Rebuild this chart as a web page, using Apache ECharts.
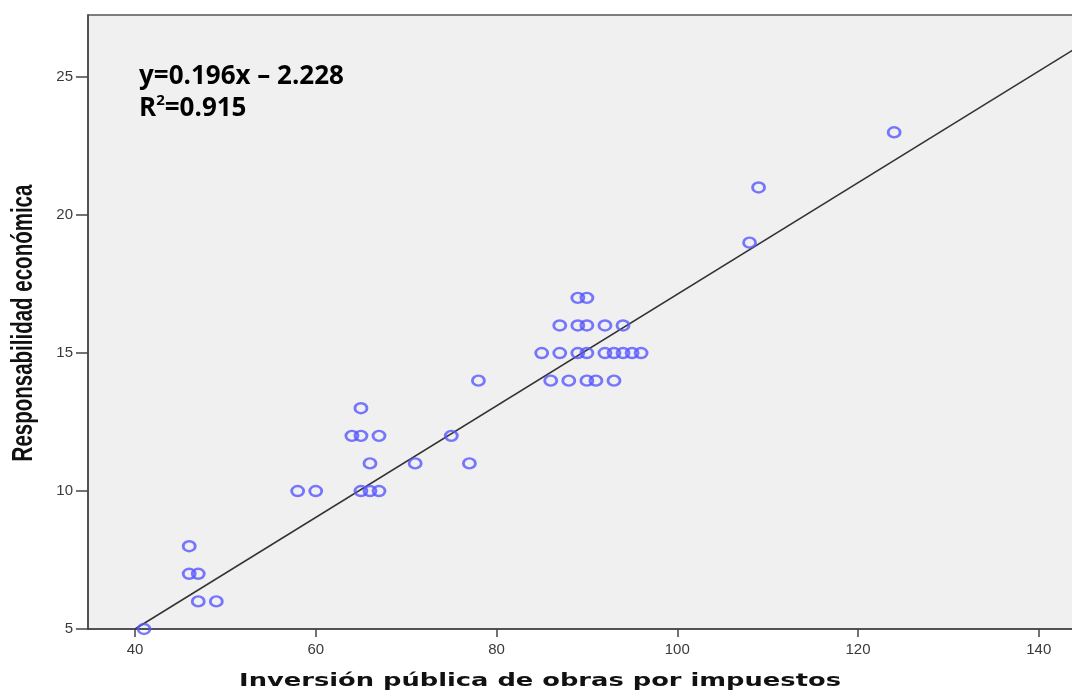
<!DOCTYPE html>
<html>
<head>
<meta charset="utf-8">
<script src="https://cdn.jsdelivr.net/npm/echarts@6/dist/echarts.min.js"></script>
<style>
  html, body { margin: 0; padding: 0; background: #fff; }
  #scatterChart { width: 1072px; height: 693px; }
</style>
</head>
<body>
<div id="scatterChart"></div>
<script>
// puntos observados: [inversión, responsabilidad]
const inversion = [41, 46, 46, 47, 47, 49, 58, 60, 64, 65, 65, 67, 66, 65, 66, 67, 71, 75, 77, 78,
  85, 87, 89, 90, 92, 93, 94, 95, 96, 87, 89, 90, 92, 94, 89, 90, 86, 88, 90, 91, 93, 108, 109, 124];
const responsabilidad = [5, 8, 7, 7, 6, 6, 10, 10, 12, 12, 13, 12, 11, 10, 10, 10, 11, 12, 11, 14,
  15, 15, 15, 15, 15, 15, 15, 15, 15, 16, 16, 16, 16, 16, 17, 17, 14, 14, 14, 14, 14, 19, 21, 23];
// recta de ajuste tal como aparece dibujada
const fitLine = [[40, 5], [143.9, 26.0]];
const xTicks = [40, 60, 80, 100, 120, 140];
const yTicks = [5, 10, 15, 20, 25];

const points = inversion.map((x, i) => [x, responsabilidad[i]]);

let chart = echarts.init(document.getElementById('scatterChart'));
chart.setOption({
  animation: false,
  backgroundColor: '#ffffff',
  grid: {
    left: 88,
    right: -2,
    top: 15,
    bottom: 64,
    outerBoundsMode: 'none',
    containLabel: false,
    show: true,
    backgroundColor: '#f0f0f0',
    borderColor: '#555',
    borderWidth: 1.5
  },
  graphic: [{
    type: 'text',
    left: 139,
    top: 64,
    style: {
      text: '{a|y=0.196x – 2.228}\n{a|R}{s|2}{a|=0.915}',
      rich: {
        a: { fontFamily: 'Open Sans', fontWeight: 'bold', fontSize: 26, fill: '#000', lineHeight: 32 },
        s: { fontFamily: 'Open Sans', fontWeight: 'bold', fontSize: 15, fill: '#000', verticalAlign: 'top', lineHeight: 32, padding: [0, 0, 8, 0] }
      }
    }
  }, {
    // título eje X (estirado en horizontal como en la imagen original)
    type: 'text',
    x: 540,
    y: 681,
    scaleX: 1.43,
    style: {
      text: 'Inversión pública de obras por impuestos',
      align: 'center',
      verticalAlign: 'middle',
      fontFamily: 'DejaVu Sans',
      fontWeight: 'bold',
      fontSize: 18,
      fill: '#111'
    }
  }, {
    // título eje Y
    type: 'text',
    x: 24,
    y: 323,
    rotation: Math.PI / 2,
    scaleY: 1.45,
    style: {
      text: 'Responsabilidad económica',
      align: 'center',
      verticalAlign: 'middle',
      fontFamily: 'Liberation Sans',
      fontWeight: 'bold',
      fontSize: 20.5,
      fill: '#111'
    }
  }],
  xAxis: {
    type: 'value',
    min: 34.8,
    max: 143.9,
    axisLine: { onZero: false, lineStyle: { color: '#444', width: 1.5 } },
    axisTick: { show: true, length: 8, customValues: xTicks, lineStyle: { color: '#444', width: 1.5 } },
    axisLabel: {
      customValues: xTicks,
      fontFamily: 'Liberation Sans',
      fontSize: 15,
      color: '#3a3a3a',
      margin: 13
    },
    splitLine: { show: false }
  },
  yAxis: {
    type: 'value',
    min: 5,
    max: 27.25,
    axisLine: { show: true, onZero: false, lineStyle: { color: '#444', width: 1.5 } },
    axisTick: { show: true, length: 12, customValues: yTicks, lineStyle: { color: '#444', width: 1.5 } },
    axisLabel: {
      customValues: yTicks,
      fontFamily: 'Liberation Sans',
      fontSize: 15,
      color: '#3a3a3a',
      margin: 15
    },
    splitLine: { show: false }
  },
  series: [{
    name: 'ajuste',
    type: 'line',
    data: fitLine,
    symbol: 'none',
    clip: true,
    lineStyle: { color: '#333', width: 1.5 },
    z: 2
  }, {
    name: 'observado',
    type: 'scatter',
    data: points,
    symbol: 'circle',
    symbolSize: [12, 10],
    clip: true,
    itemStyle: {
      color: 'rgba(0,0,0,0)',
      borderColor: '#5858ff',
      borderWidth: 2.6
    },
    z: 3
  }]
});
window.addEventListener('resize', function () {
  chart.resize();
});
</script>
</body>
</html>
